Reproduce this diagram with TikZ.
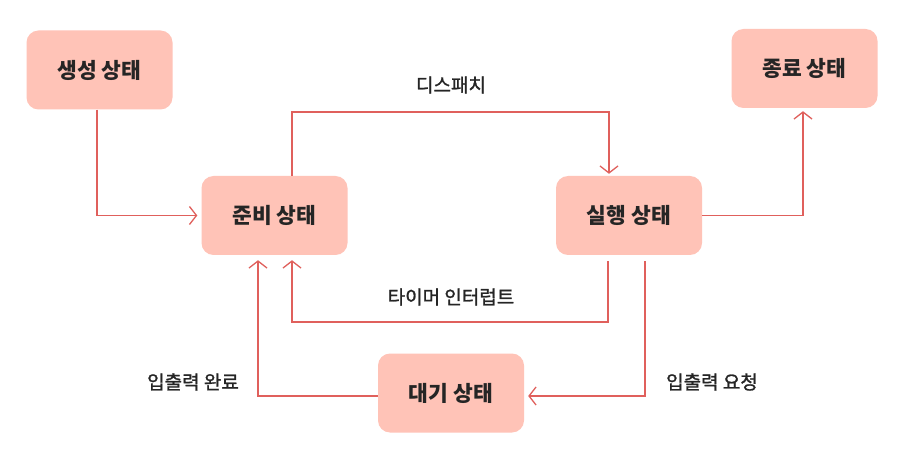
\documentclass[tikz,border=0pt]{standalone}
\usepackage{fontspec}
\newfontfamily\kr{Noto Sans CJK KR}
\newfontfamily\krm{Noto Sans CJK KR}[FakeBold=1.3]
\usetikzlibrary{arrows.meta,calc}
\definecolor{boxfill}{HTML}{FFC3B7}
\definecolor{linec}{HTML}{E0605C}
\definecolor{txt}{HTML}{252525}
\begin{document}
\begin{tikzpicture}[x=1pt,y=-1pt,
  state/.style={fill=boxfill, draw=none, rounded corners=12pt, minimum width=146pt, minimum height=79pt, text=txt, font=\kr\bfseries\fontsize{21.5}{25}\selectfont},
  conn/.style={draw=linec, line width=1.3pt, -{Straight Barb[length=7pt,width=18pt,line width=1.3pt]}},
  lab/.style={text=txt, font=\krm\fontsize{19}{22}\selectfont}]
\useasboundingbox (0,0) rectangle (905,457);
\fill[white] (0,0) rectangle (905,457);
\node[state] (new) at (99.5,70) {생성 상태};
\node[state] (ready) at (274.5,215.5) {준비 상태};
\node[state] (run) at (629,215.5) {실행 상태};
\node[state] (term) at (804.5,68.5) {종료 상태};
\node[state] (wait) at (451,393) {대기 상태};
% new -> ready
\draw[conn] (new.south -| 97,0) -- (97,215.5) -- ($(ready.west)+(-4,0)$);
% ready -> run (dispatch)
\draw[conn] (ready.north -| 292,0) -- (292,112) -- (609,112) -- ($(run.north -| 609,0)+(0,-2)$);
\node[lab] (dispatch) at (451,85) {디스패치};
% run -> term
\draw[conn] (run.east) -- (803,215.5) -- ($(term.south -| 803,0)+(0,3)$);
% run -> ready (timer interrupt)
\draw[conn] ($(run.south -| 608,0)+(0,6)$) -- (608,322) -- (292,322) -- ($(ready.south -| 292,0)+(0,5)$);
\node[lab] (timer) at (451,297) {타이머 인터럽트};
% run -> wait (io request)
\draw[conn] ($(run.south -| 645,0)+(0,6)$) -- (645,396) -- ($(wait.east |- 0,396)+(4,0)$);
\node[lab] (ioreq) at (712,382) {입출력 요청};
% wait -> ready (io complete)
\draw[conn] (wait.west |- 0,396) -- (258,396) -- ($(ready.south -| 258,0)+(0,5)$);
\node[lab] (iodone) at (193,382) {입출력 완료};
\end{tikzpicture}
\end{document}
